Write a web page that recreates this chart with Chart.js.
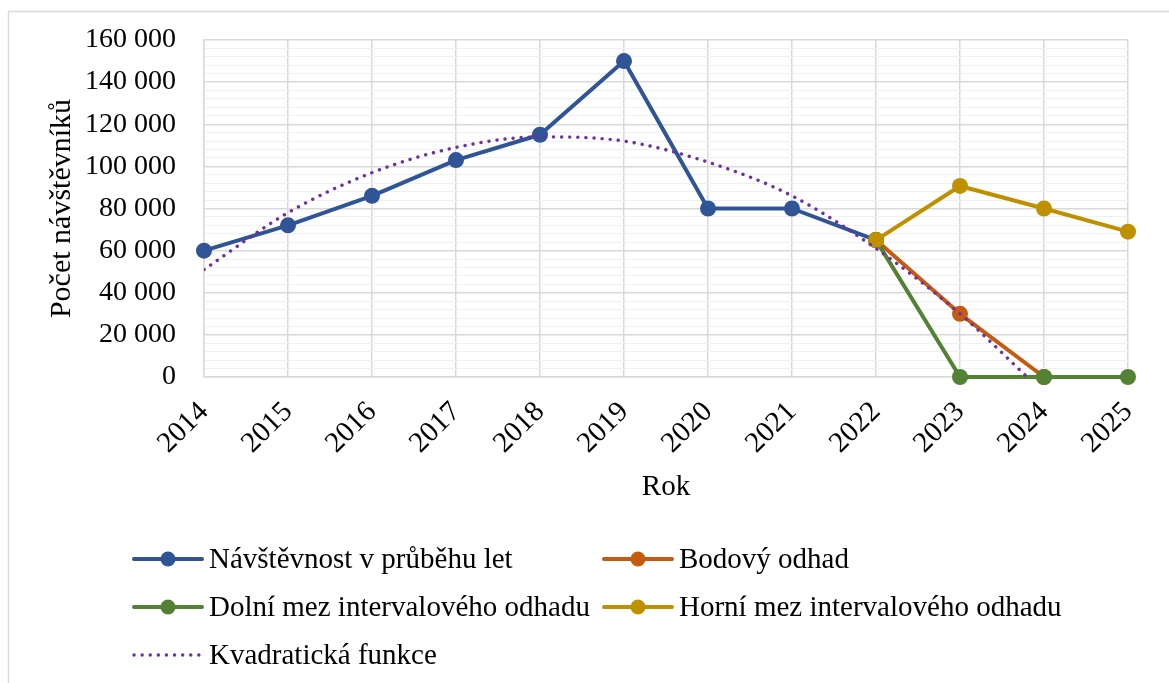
<!DOCTYPE html>
<html><head><meta charset="utf-8">
<script src="https://cdn.jsdelivr.net/npm/chart.js@4"></script>
<style>html,body{margin:0;padding:0;background:#fff}#wrap{width:1169px;height:683px;position:relative}</style>
</head><body><div id="wrap"><canvas id="c" width="1169" height="683"></canvas></div>
<script>
const years = [2014, 2015, 2016, 2017, 2018, 2019, 2020, 2021, 2022, 2023, 2024, 2025];
const visitors = [60000, 72000, 86000, 103000, 115000, 150000, 80000, 80000, 65000, null, null, null];
const pointEstimate = [null, null, null, null, null, null, null, null, 65000, 30000, 0, null];
const lowerBound = [null, null, null, null, null, null, null, null, 65000, 0, 0, 0];
const upperBound = [null, null, null, null, null, null, null, null, 65000, 90700, 80000, 69000];
const trendYears = [2014, 2015, 2016, 2017, 2018, 2019, 2020, 2021, 2022, 2023, 2023.8];
const trendValues = [51000, 78000, 97000, 109000, 114000, 112000, 102000, 86000, 61000, 30000, 0];
const seriesNames = ['Návštěvnost v průběhu let', 'Bodový odhad', 'Dolní mez intervalového odhadu', 'Horní mez intervalového odhadu', 'Kvadratická funkce'];
const seriesColors = ['#2f5597', '#c55a11', '#548235', '#bf9000', '#7030a0'];
const yTitle = 'Počet návštěvníků';
const xTitle = 'Rok';

const FONT = 'Liberation Serif, Times New Roman, serif';
const toXY = (xs, vs) => xs.map((x, i) => ({x: x, y: vs[i]})).filter(p => p.y !== null);
const fmt = v => String(v).replace(/\B(?=(\d{3})+(?!\d))/g, ' ');

function lineDs(i, values, order) {
  return {
    label: seriesNames[i], data: toXY(years, values), borderColor: seriesColors[i], backgroundColor: seriesColors[i],
    borderWidth: 4, pointRadius: 8, pointBorderWidth: 0, pointHoverRadius: 8, tension: 0, order: order,
    borderCapStyle: 'round', borderJoinStyle: 'round', clip: false
  };
}

const datasets = [
  lineDs(0, visitors, 4),
  lineDs(1, pointEstimate, 3),
  lineDs(2, lowerBound, 2),
  lineDs(3, upperBound, 1),
  {
    label: seriesNames[4], data: toXY(trendYears, trendValues), borderColor: seriesColors[4], backgroundColor: seriesColors[4],
    borderWidth: 3.4, borderDash: [0.1, 8], borderCapStyle: 'round', pointRadius: 0, cubicInterpolationMode: 'monotone', order: 0
  }
];

const frame = {
  id: 'frame',
  beforeDraw(chart) {
    const ctx = chart.ctx;
    ctx.save();
    ctx.fillStyle = '#fff';
    ctx.fillRect(0, 0, chart.width, chart.height);
    ctx.strokeStyle = '#d9d9d9';
    ctx.lineWidth = 1.5;
    ctx.strokeRect(8.5, 11.5, chart.width + 20, chart.height + 20);
    ctx.restore();
  }
};

const legendPos = [[133, 559], [603, 559], [133, 607], [603, 607], [133, 655]];
const customLegend = {
  id: 'customLegend',
  afterDraw(chart) {
    const ctx = chart.ctx;
    ctx.save();
    chart.data.datasets.forEach((ds, i) => {
      const [x, y] = legendPos[i];
      const w = 70;
      ctx.strokeStyle = ds.borderColor;
      ctx.lineWidth = ds.borderWidth;
      ctx.lineCap = 'round';
      ctx.setLineDash(ds.borderDash || []);
      ctx.beginPath();
      ctx.moveTo(x + 1, y);
      ctx.lineTo(x + w - 1, y);
      ctx.stroke();
      ctx.setLineDash([]);
      if (ds.pointRadius > 0) {
        ctx.fillStyle = ds.backgroundColor;
        ctx.beginPath();
        ctx.arc(x + w / 2, y, 7.5, 0, Math.PI * 2);
        ctx.fill();
      }
      ctx.fillStyle = '#000';
      ctx.font = '29px ' + FONT;
      ctx.textBaseline = 'middle';
      ctx.textAlign = 'left';
      ctx.fillText(ds.label, x + w + 6, y + 1);
    });
    ctx.restore();
  }
};

new Chart(document.getElementById('c'), {
  type: 'line',
  data: {datasets: datasets},
  plugins: [frame, customLegend],
  options: {
    responsive: false, animation: false, devicePixelRatio: 1,
    layout: {padding: {left: 8, top: 40, right: 41, bottom: 176}},
    plugins: {legend: {display: false}, tooltip: {enabled: false}},
    scales: {
      x: {
        type: 'linear', min: years[0], max: years[years.length - 1],
        ticks: {stepSize: 1, callback: v => String(v), minRotation: 45, maxRotation: 45, autoSkip: false,
          font: {family: FONT, size: 29}, color: '#000', padding: 18},
        grid: {color: '#d9d9d9', lineWidth: 1.5, drawTicks: false},
        border: {color: '#d9d9d9', width: 1.5},
        title: {display: true, text: xTitle, font: {family: FONT, size: 29}, color: '#000', padding: {top: 0, bottom: 2}},
        afterFit: s => { s.height = 130; s.paddingLeft = 0; s.paddingRight = 0; }
      },
      y: {
        min: 0, max: 160000,
        ticks: {stepSize: 4000, maxTicksLimit: 100, autoSkip: false,
          callback: v => (v % 20000 === 0 ? fmt(v) : ''),
          font: {family: FONT, size: 28}, color: '#000', padding: 28},
        grid: {color: c => (c.tick && c.tick.value % 20000 === 0 ? '#d9d9d9' : '#f0f0f0'),
          lineWidth: c => (c.tick && c.tick.value % 20000 === 0 ? 1.5 : 1), drawTicks: false},
        border: {color: '#d9d9d9', width: 1.5},
        title: {display: true, text: yTitle, font: {family: FONT, size: 30}, color: '#000', padding: {top: 36, bottom: 0}},
        afterFit: s => { s.width = 196; s.paddingTop = 0; s.paddingBottom = 0; }
      }
    }
  }
});
</script></body></html>
